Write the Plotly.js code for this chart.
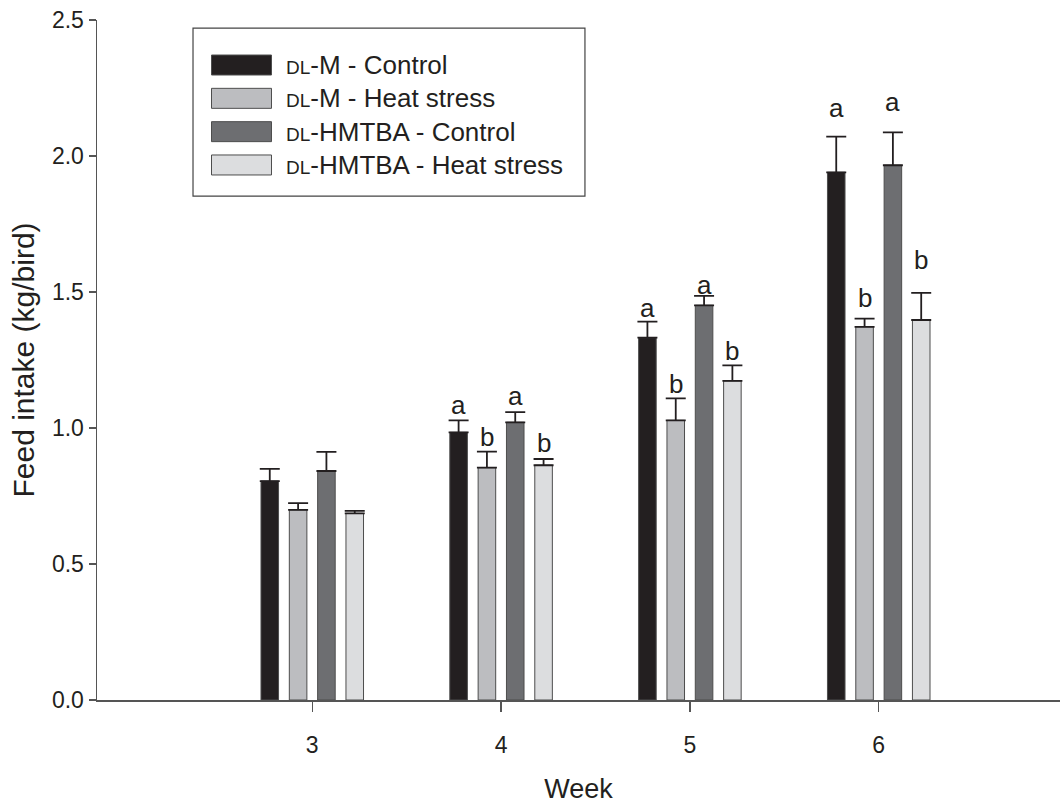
<!DOCTYPE html>
<html><head><meta charset="utf-8">
<script src="https://cdn.plot.ly/plotly-3.0.1.min.js"></script>
<style>html,body{margin:0;padding:0;background:#fff}#chart{width:1060px;height:808px}</style>
</head><body><div id="chart"></div>
<script>
// ---- data ----
const weeks = [3, 4, 5, 6];
const seriesNames = [
  '<span style="font-size:19px">DL</span>-M - Control',
  '<span style="font-size:19px">DL</span>-M - Heat stress',
  '<span style="font-size:19px">DL</span>-HMTBA - Control',
  '<span style="font-size:19px">DL</span>-HMTBA - Heat stress'
];
const dlmControl        = [0.805, 0.984, 1.332, 1.940];
const dlmHeat           = [0.699, 0.854, 1.028, 1.372];
const hmtbaControl      = [0.842, 1.021, 1.451, 1.966];
const hmtbaHeat         = [0.686, 0.863, 1.173, 1.397];
const dlmControlErr     = [0.045, 0.044, 0.059, 0.131];
const dlmHeatErr        = [0.025, 0.059, 0.081, 0.030];
const hmtbaControlErr   = [0.070, 0.037, 0.035, 0.121];
const hmtbaHeatErr      = [0.009, 0.023, 0.057, 0.100];
const dlmControlLetters   = ['', 'a', 'a', 'a'];
const dlmHeatLetters      = ['', 'b', 'b', 'b'];
const hmtbaControlLetters = ['', 'a', 'a', 'a'];
const hmtbaHeatLetters    = ['', 'b', 'b', 'b'];
const dlmControlLetterY   = [null, 1.085, 1.441, 2.176];
const dlmHeatLetterY      = [null, 0.967, 1.162, 1.478];
const hmtbaControlLetterY = [null, 1.118, 1.526, 2.199];
const hmtbaHeatLetterY    = [null, 0.945, 1.283, 1.618];
const yTicks = [0, 0.5, 1.0, 1.5, 2.0, 2.5];

// ---- styles ----
const colors = ['#231f20', '#bcbdc0', '#6d6e71', '#dcdddf'];
const textColor = '#231f20';
const axisColor = '#555555';
const FONT = 'Liberation Sans, Arial, Helvetica, sans-serif';
const bargap = 0.4, bargroupgap = 0.38;

const values = [dlmControl, dlmHeat, hmtbaControl, hmtbaHeat];
const errs = [dlmControlErr, dlmHeatErr, hmtbaControlErr, hmtbaHeatErr];
const letters = [dlmControlLetters, dlmHeatLetters, hmtbaControlLetters, hmtbaHeatLetters];
const letterY = [dlmControlLetterY, dlmHeatLetterY, hmtbaControlLetterY, hmtbaHeatLetterY];

const traces = values.map((v, i) => ({
  type: 'bar', x: weeks, y: v, name: seriesNames[i], showlegend: false,
  marker: {color: colors[i], line: {color: '#4d4d4d', width: 1}},
  error_y: {type: 'data', symmetric: false, array: errs[i], arrayminus: weeks.map(() => 0),
            color: textColor, thickness: 1.8, width: 10},
  hoverinfo: 'x+y'
}));

const slot = (1 - bargap) / values.length;
const annotations = [];
letters.forEach((arr, i) => {
  arr.forEach((t, j) => {
    if (!t) return;
    annotations.push({x: weeks[j] + (i - (values.length - 1) / 2) * slot, y: letterY[i][j],
      xref: 'x', yref: 'y', text: t, showarrow: false, yanchor: 'middle',
      font: {family: FONT, size: 26, color: textColor}});
  });
});

// manual legend (paper coordinates)
const shapes = [];
const lg = {x0: 0.0997, x1: 0.5067, y0: 0.741, y1: 0.988, sx0: 0.1189, sx1: 0.1812, tx: 0.1947,
            top: 0.9338, rowH: 0.049, swH: 0.0294};
shapes.push({type: 'rect', xref: 'paper', yref: 'paper', x0: lg.x0, x1: lg.x1, y0: lg.y0, y1: lg.y1,
  line: {color: '#444', width: 1.2}, fillcolor: '#ffffff', layer: 'above'});
seriesNames.forEach((n, i) => {
  const cy = lg.top - i * lg.rowH;
  shapes.push({type: 'rect', xref: 'paper', yref: 'paper', x0: lg.sx0, x1: lg.sx1,
    y0: cy - lg.swH / 2, y1: cy + lg.swH / 2, fillcolor: colors[i],
    line: {color: '#4d4d4d', width: 1}, layer: 'above'});
  annotations.push({xref: 'paper', yref: 'paper', x: lg.tx, y: cy, xanchor: 'left', yanchor: 'middle',
    text: n, showarrow: false, font: {family: FONT, size: 26, color: textColor}});
});

const layout = {
  width: 1060, height: 808,
  margin: {l: 97, r: 0, t: 20, b: 108},
  paper_bgcolor: '#fff', plot_bgcolor: '#fff',
  barmode: 'group', bargap: bargap, bargroupgap: bargroupgap,
  showlegend: false,
  font: {family: FONT, color: textColor},
  xaxis: {
    range: [1.86, 6.96], tickvals: weeks, ticktext: weeks.map(String),
    showline: true, linecolor: axisColor, linewidth: 1.5,
    ticks: 'outside', ticklen: 10, tickwidth: 1.5, tickcolor: axisColor,
    ticklabelstandoff: 14,
    showgrid: false, zeroline: false,
    tickfont: {family: FONT, size: 23, color: textColor},
    title: {text: 'Week', font: {family: FONT, size: 27, color: textColor}, standoff: 22}
  },
  yaxis: {
    range: [0, 2.5], tickvals: yTicks, tickformat: '.1f',
    showline: true, linecolor: axisColor, linewidth: 1.5,
    ticks: 'outside', ticklen: 7, tickwidth: 1.5, tickcolor: axisColor,
    showgrid: false, zeroline: false,
    tickfont: {family: FONT, size: 23, color: textColor},
    title: {text: 'Feed intake (kg/bird)', font: {family: FONT, size: 30, color: textColor}, standoff: 8}
  },
  shapes: shapes,
  annotations: annotations
};

Plotly.newPlot('chart', traces, layout, {displayModeBar: false, staticPlot: true});
</script>
</body></html>
